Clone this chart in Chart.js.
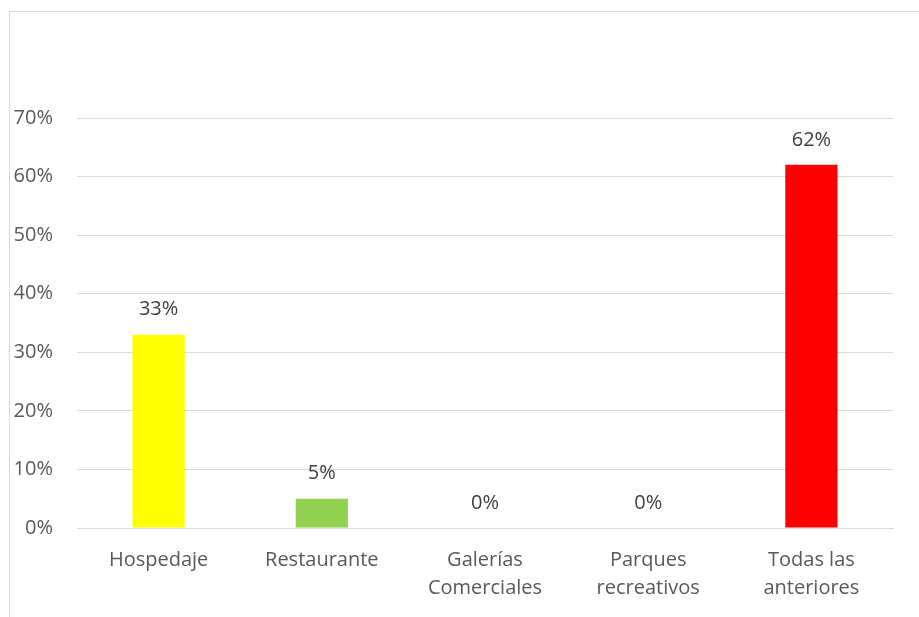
<!DOCTYPE html>
<html>
<head>
<meta charset="utf-8">
<script src="https://cdn.jsdelivr.net/npm/chart.js@4/dist/chart.umd.min.js"></script>
<style>
  html, body { margin: 0; padding: 0; background: #fff; overflow: hidden; }
  #frame { position: absolute; left: 9px; top: 11px; width: 1000px; height: 700px; border: 1px solid #d9d9d9; }
  #wrap { position: absolute; left: 0; top: 0; width: 919px; height: 617px; }
</style>
</head>
<body>
<div id="frame"></div>
<div id="wrap"><canvas id="chart"></canvas></div>
<script>
// categories and values
const categories = ['Hospedaje', 'Restaurante', ['Galerías', 'Comerciales'], ['Parques', 'recreativos'], ['Todas las', 'anteriores']];
const values     = [0.33, 0.05, 0, 0, 0.62];
const barColors  = ['#FFFF00', '#92D050', '#92D050', '#92D050', '#FF0000'];
const yTicks     = [0, 0.1, 0.2, 0.3, 0.4, 0.5, 0.6, 0.7];

const FONT = "'Open Sans', 'Noto Sans', sans-serif";
const SIZE = 20;

// draw the value above each bar
const valueLabels = {
  id: 'valueLabels',
  afterDatasetsDraw(chart) {
    const ctx = chart.ctx;
    const meta = chart.getDatasetMeta(0);
    ctx.save();
    ctx.font = SIZE + 'px ' + FONT;
    ctx.fillStyle = '#404040';
    ctx.textAlign = 'center';
    ctx.textBaseline = 'middle';
    meta.data.forEach((bar, i) => {
      ctx.fillText(Math.round(values[i] * 100) + '%', bar.x, bar.y - 25);
    });
    ctx.restore();
  }
};

new Chart(document.getElementById('chart').getContext('2d'), {
  type: 'bar',
  data: {
    labels: categories,
    datasets: [{
      data: values,
      backgroundColor: barColors,
      barPercentage: 0.32,
      categoryPercentage: 1
    }]
  },
  options: {
    responsive: true,
    maintainAspectRatio: false,
    animation: false,
    layout: { padding: { top: 118, right: 26, bottom: 0, left: 0 } },
    plugins: { legend: { display: false }, tooltip: { enabled: false } },
    scales: {
      x: {
        grid: { display: false, drawTicks: false },
        border: { display: true, color: '#d9d9d9', width: 1 },
        ticks: { color: '#595959', font: { family: FONT, size: SIZE, lineHeight: 1.4 }, padding: 18, maxRotation: 0, autoSkip: false },
        afterFit(scale) { scale.height = 89; }
      },
      y: {
        min: 0,
        max: 0.7,
        afterBuildTicks(scale) { scale.ticks = yTicks.map(v => ({ value: v })); },
        grid: { color: '#d9d9d9', lineWidth: 1, drawTicks: false },
        border: { display: false },
        ticks: {
          color: '#595959',
          font: { family: FONT, size: SIZE },
          padding: 24,
          callback: v => Math.round(v * 100) + '%'
        },
        afterFit(scale) { scale.width = 77; }
      }
    }
  },
  plugins: [valueLabels]
});
</script>
</body>
</html>
